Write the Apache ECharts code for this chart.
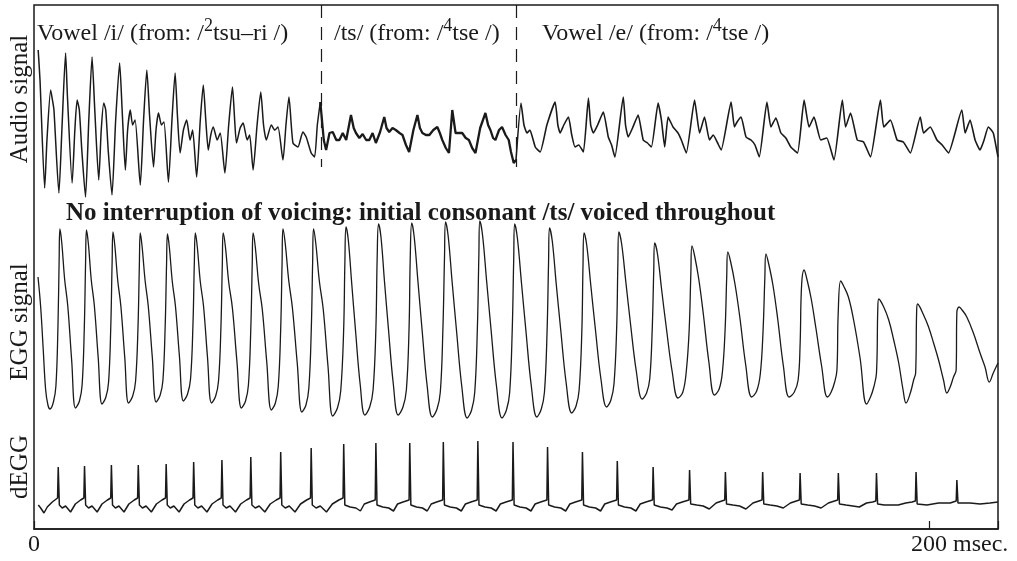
<!DOCTYPE html>
<html><head><meta charset="utf-8">
<script src="https://cdn.jsdelivr.net/npm/echarts@6/dist/echarts.min.js"></script>
<style>html,body{margin:0;padding:0;background:#fff}#c{width:1017px;height:561px}</style>
</head><body><div id="c"></div>
<script>
// ---- data (time in ms, amplitudes in arbitrary units) ----
const durationMs = 215.42;
const xTicks = [0, 200];
const xTickLabels = ['0', '200 msec.'];
const boundariesMs = [63.53, 107.33];
const segmentTitles = [
  ['Vowel /i/ (from: /', '2', 'tsu\u2013ri /)'],
  ['/ts/ (from: /', '4', 'tse /)'],
  ['Vowel /e/ (from: /', '4', 'tse /)']
];
const noteText = 'No interruption of voicing: initial consonant /ts/ voiced throughout';
const signalNames = ['Audio signal', 'EGG signal', 'dEGG'];

const audioVowelI = [
[0.04,75],[0.45,45],[1.50,-63],[2.01,-15],[2.84,35],[3.24,25],[3.58,15],[4.69,-68],[5.36,-5],[6.19,72],[6.59,30],[7.66,-58],[8.27,-5],[8.78,25],[9.27,15],[9.83,-25],[10.66,-72],[11.40,5],[12.13,68],[12.74,15],[13.63,-55],[14.19,-5],[14.75,22],[15.20,15],[15.75,-25],[16.60,-70],[17.43,5],[18.32,62],[18.88,15],[19.60,-45],[20.11,-5],[20.71,15],[21.23,0],[21.79,5],[22.95,-60],[23.69,5],[24.42,55],[25.03,10],[25.92,-42],[26.48,-5],[27.04,12],[27.71,0],[28.27,3],[29.27,-57],[30.06,5],[30.77,52],[31.28,10],[31.89,-28],[32.63,-5],[33.36,5],[34.12,-15],[34.70,-5],[35.60,-52],[36.42,5],[37.09,40],[37.65,5],[38.21,-25],[38.77,-10],[39.33,-2],[40.22,-15],[40.89,-8],[41.94,-48],[42.79,0],[43.64,38],[44.13,5],[44.54,-18],[45.36,-3],[46.03,2],[46.93,-15],[47.49,-10],[48.27,-45],[49.16,0],[49.99,33],[50.61,0],[51.24,-15],[52.36,0],[53.12,-5],[53.85,-2],[54.97,-35],[55.64,0],[56.31,28],[57.21,-18],[58.32,-22],[59.44,-7],[60.18,-12],[61.30,-28],[62.06,-32],[62.68,0],[63.35,23]
];
const audioTs = [
[63.35,23],[64.13,-15],[64.65,-25],[65.41,-8],[66.14,-7],[66.93,-15],[67.64,-15],[68.38,-8],[69.16,-15],[70.23,10],[70.84,-3],[71.35,-8],[72.11,-13],[72.85,-9],[73.63,-15],[74.35,-15],[75.08,-8],[75.82,-18],[76.76,-7],[77.70,8],[78.21,-3],[78.81,-7],[79.55,-3],[80.29,-5],[81.12,-8],[81.79,-10],[82.57,-20],[83.28,-27],[84.24,-5],[85.14,10],[85.70,-3],[86.26,-8],[87.04,-10],[87.82,-10],[88.71,-5],[89.61,-2],[90.17,-8],[90.72,-15],[91.51,-23],[92.22,-28],[92.96,15],[93.70,-8],[94.52,-8],[95.19,-8],[95.98,-13],[96.69,-15],[97.43,-23],[98.17,-28],[99.22,-3],[100.40,12],[101.00,0],[101.52,-5],[102.12,-13],[102.64,-15],[103.46,-5],[104.13,-2],[104.92,-10],[105.63,-15],[106.14,-27],[106.75,-38],[107.26,-35]
];
const audioVowelE = [
[107.26,-35],[108.38,22],[109.05,0],[109.72,-8],[110.39,-5],[111.58,-22],[112.69,-27],[114.19,0],[116.04,23],[116.65,0],[117.16,-8],[117.99,0],[119.04,8],[119.77,-10],[120.51,-22],[121.34,-20],[122.39,-27],[123.51,27],[124.02,0],[124.62,-8],[125.58,0],[126.86,13],[127.97,-12],[128.71,-20],[129.45,-32],[131.33,28],[131.84,0],[132.44,-12],[133.41,-3],[134.68,10],[135.80,-15],[136.76,-18],[137.65,-22],[139.15,22],[139.89,5],[140.63,-22],[141.39,8],[142.50,-2],[143.62,-8],[144.36,-15],[145.48,-28],[147.33,25],[147.83,10],[148.45,-8],[149.56,8],[150.68,-15],[151.51,-10],[152.40,-17],[153.30,-25],[155.53,23],[156.27,-2],[156.87,3],[157.77,8],[158.88,-12],[160.00,-15],[160.89,-20],[161.85,-32],[163.57,23],[164.46,-2],[165.58,7],[166.70,-8],[167.81,-13],[168.93,-22],[170.43,-28],[171.91,25],[173.02,-2],[174.14,8],[175.64,-15],[176.98,-13],[178.61,-35],[180.49,25],[181.22,-2],[182.34,12],[183.84,-15],[185.25,-17],[186.81,-32],[189.04,25],[189.78,-2],[191.28,5],[192.78,-15],[194.18,-17],[195.75,-28],[197.98,8],[198.72,-8],[200.22,-2],[201.72,-15],[202.90,-20],[204.31,-28],[207.30,15],[208.04,-8],[209.16,5],[210.28,-15],[211.39,-25],[212.29,-15],[213.25,-2],[214.36,-8],[215.12,-25],[215.42,-32]
];
const egg = [
[0,43],[0.60,13],[1.18,-30],[1.72,-70],[2.23,-85],[2.68,-89],
[3.46,-82],[4.02,-66],[4.47,-8],[4.74,59],[4.92,91],[5.34,77],[5.97,41],[6.68,14],[7.55,-40],[8.42,-88],
[9.30,-81],[9.90,-65],[10.39,-8],[10.68,58],[10.88,90],[11.31,76],[11.93,41],[12.63,15],[13.50,-37],[14.37,-84],
[15.24,-77],[15.84,-62],[16.33,-7],[16.63,57],[16.83,88],[17.25,74],[17.88,40],[18.59,14],[19.46,-37],[20.33,-83],
[21.25,-76],[21.90,-61],[22.44,-7],[22.75,56],[22.95,87],[23.37,73],[24.02,40],[24.74,14],[25.63,-36],[26.52,-82],
[27.42,-75],[28.04,-60],[28.54,-6],[28.85,56],[29.05,86],[29.47,73],[30.12,39],[30.84,14],[31.73,-36],[32.63,-81],
[33.56,-74],[34.23,-59],[34.77,-5],[35.08,57],[35.31,87],[35.75,73],[36.40,39],[37.14,14],[38.03,-37],[38.95,-83],
[39.87,-76],[40.51,-61],[41.05,-7],[41.36,56],[41.56,87],[42.06,73],[42.79,38],[43.62,12],[44.63,-41],[45.65,-88],
[46.57,-81],[47.22,-65],[47.75,-9],[48.07,55],[48.27,87],[48.76,73],[49.50,37],[50.32,11],[51.33,-42],[52.36,-90],
[53.27,-83],[53.92,-66],[54.46,-9],[54.77,57],[54.97,91],[55.49,76],[56.25,40],[57.09,12],[58.17,-43],[59.22,-92],
[60.13,-85],[60.78,-68],[61.32,-10],[61.63,58],[61.83,91],[62.35,76],[63.13,39],[64.00,11],[65.07,-46],[66.14,-96],
[67.19,-88],[67.93,-71],[68.58,-11],[68.87,59],[69.12,93],[69.63,80],[70.39,37],[71.24,-10],[72.31,-65],[73.36,-95],
[74.43,-87],[75.19,-70],[75.82,-9],[76.11,62],[76.42,96],[76.96,83],[77.74,39],[78.64,-9],[79.73,-64],[80.83,-95],
[81.90,-87],[82.66,-70],[83.26,-9],[83.53,62],[83.87,97],[84.42,83],[85.25,39],[86.19,-10],[87.33,-66],[88.49,-97],
[89.54,-89],[90.28,-72],[90.86,-9],[91.22,63],[91.46,98],[92.04,84],[92.91,39],[93.90,-10],[95.11,-67],[96.31,-98],
[97.30,-90],[98.01,-72],[98.59,-9],[98.93,65],[99.15,99],[99.75,85],[100.65,40],[101.65,-9],[102.88,-66],[104.13,-98],
[105.12,-90],[105.83,-73],[106.41,-11],[106.75,61],[106.97,96],[107.57,82],[108.47,38],[109.47,-10],[110.70,-66],[111.95,-97],
[112.94,-89],[113.65,-72],[114.23,-12],[114.57,58],[114.79,92],[115.40,79],[116.29,36],[117.30,-10],[118.52,-63],[119.77,-93],
[120.74,-86],[121.43,-70],[122.03,-12],[122.30,55],[122.53,87],[123.13,75],[124.04,35],[125.07,-9],[126.32,-59],[127.60,-87],
[128.56,-80],[129.25,-64],[129.85,-8],[130.12,56],[130.34,88],[130.97,76],[131.91,38],[132.96,-4],[134.28,-52],[135.57,-79],
[136.56,-73],[137.27,-59],[137.83,-9],[138.17,49],[138.39,77],[139.01,66],[139.95,30],[141.00,-8],[142.32,-52],[143.62,-78],
[144.71,-72],[145.50,-50],[146.12,-10],[146.50,47],[146.75,74],[147.35,64],[148.27,41],[149.27,7],[150.54,-42],[151.80,-75],
[152.85,-69],[153.58,-52],[154.19,-9],[154.55,44],[154.79,68],[155.44,58],[156.40,36],[157.48,3],[158.81,-45],[160.15,-77],
[161.27,-71],[162.08,-54],[162.70,-11],[163.10,42],[163.35,66],[163.97,56],[164.91,35],[165.96,2],[167.26,-46],[168.56,-77],
[169.72,-72],[170.57,-60],[171.01,-25],[171.35,35],[171.91,50],[172.53,41],[173.47,22],[174.52,-7],[175.84,-46],[177.14,-77],
[177.99,-72],[178.77,-62],[179.28,-50],[179.55,5],[180.11,39],[180.78,34],[181.85,23],[183.02,0],[184.47,-38],[185.92,-84],
[186.81,-77],[187.55,-67],[188.15,-53],[188.44,10],[188.67,21],[189.78,13],[190.90,0],[192.02,-20],[193.14,-43],[194.12,-70],[194.79,-83],
[195.75,-73],[196.49,-60],[196.94,-53],[197.16,8],[197.38,16],[198.72,5],[199.84,-7],[200.96,-23],[202.08,-40],[203.19,-60],[203.95,-73],
[204.69,-67],[205.43,-57],[206.03,-50],[206.19,8],[206.70,13],[207.37,10],[208.42,3],[209.90,-13],[211.39,-33],[212.51,-47],[213.47,-62],[214.36,-53],[215.42,-43]
];
const degg = [
[0.07,0],[0.60,-3],[1.34,-8],[2.08,-2],[3.20,3],[4.39,7],
[4.54,38],[4.79,0],[5.43,-3],[6.19,-1],[7.31,-7],[8.38,1],[9.56,5],[10.29,7],
[10.44,39],[10.69,0],[11.34,-3],[12.13,-1],[13.27,-7],[14.36,1],[15.57,5],[16.32,7],
[16.47,40],[16.72,0],[17.37,-3],[18.16,-1],[19.30,-7],[20.39,1],[21.60,5],[22.35,7],
[22.50,40],[22.75,0],[23.44,-3],[24.25,-1],[25.44,-7],[26.57,1],[27.82,5],[28.61,7],
[28.76,41],[29.01,0],[29.69,-3],[30.49,-1],[31.66,-7],[32.77,1],[34.00,5],[34.78,7],
[34.93,43],[35.18,0],[35.88,-3],[36.71,-1],[37.91,-7],[39.05,1],[40.32,5],[41.12,7],
[41.27,45],[41.52,0],[42.24,-3],[43.08,-1],[44.32,-7],[45.48,1],[46.78,5],[47.60,7],
[47.75,48],[48.00,0],[48.76,-3],[49.63,-1],[50.90,-7],[52.11,1],[53.45,5],[54.31,7],
[54.46,53],[54.71,0],[55.49,-3],[56.38,-1],[57.67,-7],[58.91,1],[60.27,5],[61.15,7],
[61.30,57],[61.55,0],[62.40,-3],[63.34,-1],[64.73,-7],[66.05,1],[67.51,5],[68.45,7],
[68.60,61],[68.85,0],[70.04,-2],[71.34,-3],[72.35,-6],[73.22,1],[74.38,3],[75.67,5],
[75.82,62],[76.07,0],[77.34,-2],[78.71,-3],[79.77,-6],[80.68,1],[81.90,3],[83.27,5],
[83.42,62],[83.67,0],[84.93,-2],[86.28,-3],[87.34,-6],[88.24,1],[89.44,3],[90.80,5],
[90.95,63],[91.20,0],[92.50,-2],[93.90,-3],[94.98,-6],[95.91,1],[97.15,3],[98.55,5],
[98.70,64],[98.95,0],[100.28,-2],[101.70,-3],[102.80,-6],[103.75,1],[105.01,3],[106.44,5],
[106.59,63],[106.84,0],[108.14,-2],[109.54,-3],[110.62,-6],[111.55,1],[112.79,3],[114.19,5],
[114.34,58],[114.59,0],[115.91,-2],[117.32,-3],[118.41,-6],[119.35,1],[120.60,3],[122.02,5],
[122.17,53],[122.42,0],[123.73,-2],[125.14,-3],[126.24,-6],[127.17,1],[128.43,3],[129.84,5],
[129.99,44],[130.24,0],[131.60,-2],[133.05,-3],[134.17,-6],[135.14,1],[136.42,3],[137.88,5],
[138.03,38],[138.28,0],[139.67,-2],[141.14,-3],[142.28,-5],[143.27,1],[144.57,3],[146.06,5],
[146.21,35],[146.46,1],[147.82,0],[149.27,-1],[150.63,-4],[152.16,2],[153.45,4],[154.10,5],
[154.25,33],[154.50,1],[155.92,0],[157.43,-1],[158.85,-4],[160.44,2],[161.77,4],[162.46,5],
[162.61,33],[162.86,1],[164.29,0],[165.80,-1],[167.23,-3],[168.83,2],[170.17,4],[170.86,5],
[171.01,32],[171.26,1],[172.73,0],[174.27,-1],[175.73,-3],[177.36,2],[178.73,4],[179.44,5],
[179.59,32],[179.84,1],[181.30,0],[182.84,-1],[184.30,-2],[185.92,2],[187.29,3],[188.00,4],
[188.15,32],[188.40,1],[189.93,0],[191.52,0],[193.03,0],[194.72,2],[196.14,3],[196.88,4],
[197.03,33],[197.28,1],[199.48,0],[202.08,2],[204.69,2],[206.04,4],
[206.19,25],[206.44,2],[209.16,2],[211.39,1],[213.63,2],[215.42,3]
];

// ---- chart ----
const FONT = "'Liberation Serif','Times New Roman','DejaVu Serif',serif";
const INK = '#1a1a1a';
const chart = echarts.init(document.getElementById('c'), null, {renderer: 'canvas'});

const titleLefts = [37, 334, 542];
const richTitle = {
  n: {fontFamily: FONT, fontSize: 24, fontWeight: 'normal', lineHeight: 34, color: INK},
  s: {fontFamily: FONT, fontSize: 18, fontWeight: 'normal', lineHeight: 18, verticalAlign: 'top', color: INK}
};

const hiddenY = {show: false};
function sigY(grid, min, max, name) {
  return {
    type: 'value', gridIndex: grid, min: min, max: max,
    name: name, nameLocation: 'middle', nameGap: 5, nameRotate: 90,
    nameTextStyle: {fontFamily: FONT, fontSize: 25, fontWeight: 'normal', color: INK},
    axisLine: {show: false}, axisTick: {show: false}, axisLabel: {show: false}, splitLine: {show: false}
  };
}
function sigX(grid) {
  return {type: 'value', gridIndex: grid, min: 0, max: durationMs, show: false};
}
function lineSeries(data, xi, width, extra) {
  return Object.assign({
    type: 'line', xAxisIndex: xi, yAxisIndex: xi, data: data,
    showSymbol: false, symbol: 'none', clip: false, silent: true,
    lineStyle: {color: INK, width: width}
  }, extra || {});
}

const option = {
  animation: false,
  backgroundColor: '#ffffff',
  title: segmentTitles.map((t, i) => ({
    left: titleLefts[i], top: 17, padding: 0,
    text: '{n|' + t[0] + '}{s|' + t[1] + '}{n|' + t[2] + '}',
    textStyle: {fontWeight: 'normal', rich: richTitle}
  })).concat([{
    left: 66, top: 201, padding: 0, text: noteText,
    textStyle: {fontFamily: FONT, fontSize: 25, fontWeight: 'bold', color: INK}
  }]),
  grid: [
    {left: 34, right: 19, top: 5, bottom: 32, show: true, borderColor: INK, borderWidth: 1.5, backgroundColor: 'transparent'},
    {left: 34, right: 19, top: 5, height: 188},
    {left: 34, right: 19, top: 215, height: 214},
    {left: 34, right: 19, top: 430, height: 74}
  ],
  xAxis: [
    {
      type: 'value', gridIndex: 0, min: 0, max: durationMs, interval: 200,
      axisLine: {show: true, lineStyle: {color: INK, width: 1.5}},
      axisTick: {show: true, inside: true, length: 8, lineStyle: {color: INK, width: 1.2}},
      splitLine: {show: false},
      axisLabel: {
        margin: 4, color: INK, fontFamily: FONT, fontSize: 24,
        formatter: function (v) {
          const k = xTicks.indexOf(v);
          if (k < 0) return '';
          if (k === 0) return xTickLabels[0];
          const label = xTickLabels[k];
          const num = String(xTicks[k]);
          const rest = label.slice(num.length);
          return '{h|' + rest + '}' + label;
        },
        rich: {h: {color: 'rgba(0,0,0,0)', fontFamily: FONT, fontSize: 24}}
      }
    },
    sigX(1), sigX(2), sigX(3)
  ],
  yAxis: [
    Object.assign({type: 'value', gridIndex: 0, min: 0, max: 1}, hiddenY),
    sigY(1, -68, 120, signalNames[0]),
    sigY(2, -109, 105, signalNames[1]),
    sigY(3, 1, 75, signalNames[2])
  ],
  series: [
    lineSeries(audioVowelI, 1, 1.5, {
      smooth: 0.2,
      markLine: {
        silent: true, symbol: 'none', label: {show: false},
        lineStyle: {color: INK, width: 1.2, type: [13, 9]},
        data: boundariesMs.map(b => [{coord: [b, 120]}, {coord: [b, -42]}])
      }
    }),
    lineSeries(audioTs, 1, 2.3),
    lineSeries(audioVowelE, 1, 1.6, {smooth: 0.15}),
    lineSeries(egg, 2, 1.3, {smooth: 0.4}),
    lineSeries(degg, 3, 1.5)
  ]
};
chart.setOption(option);
</script>
</body></html>
